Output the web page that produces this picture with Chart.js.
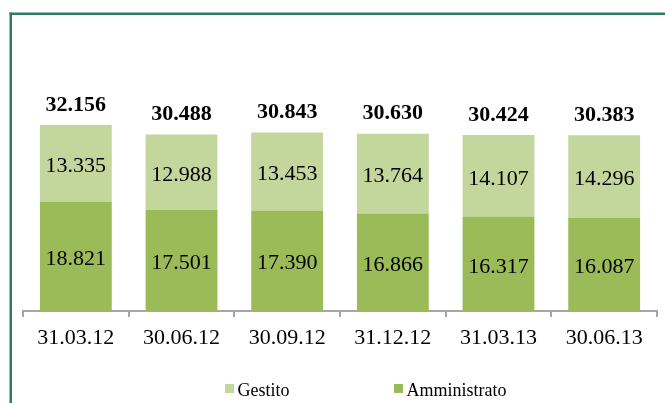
<!DOCTYPE html>
<html lang="it">
<head>
<meta charset="UTF-8">
<title>Gestito / Amministrato</title>
<script src="https://cdnjs.cloudflare.com/ajax/libs/Chart.js/4.4.1/chart.umd.min.js"></script>
<style>
    html, body { margin: 0; padding: 0; background: #fff; }
    #wrap { width: 665px; height: 403px; }
</style>
</head>
<body>
<div id="wrap"><canvas id="chart" width="665" height="403"></canvas></div>
<script>
// Data
const dates = ["31.03.12", "30.06.12", "30.09.12", "31.12.12", "31.03.13", "30.06.13"];
const amministrato = [18821, 17501, 17390, 16866, 16317, 16087];
const gestito = [13335, 12988, 13453, 13764, 14107, 14296];
const totals = [32156, 30488, 30843, 30630, 30424, 30383];

const SERIF = '"Liberation Serif", "Times New Roman", serif';

// 18821 -> "18.821"
function fmt(n) {
    return String(n).replace(/\B(?=(\d{3})+(?!\d))/g, ".");
}

const decorations = {
    id: "decorations",
    beforeDraw(chart) {
        const ctx = chart.ctx;
        ctx.save();
        // green frame on top and left
        ctx.fillStyle = "#2F7D69";
        ctx.fillRect(9.5, 12.5, 2.5, 403);
        ctx.fillRect(9.5, 12.5, 665, 2.5);
        ctx.restore();
    },
    afterDatasetsDraw(chart) {
        const ctx = chart.ctx;
        const xs = chart.scales.x;
        const ys = chart.scales.y;
        ctx.save();
        ctx.textAlign = "center";
        ctx.textBaseline = "middle";
        ctx.fillStyle = "#000";

        // values inside the segments
        ctx.font = "22px " + SERIF;
        chart.data.datasets.forEach((ds, i) => {
            chart.getDatasetMeta(i).data.forEach((bar, j) => {
                ctx.fillText(fmt(ds.data[j]), bar.x, (bar.y + bar.base) / 2 + 3);
            });
        });

        // totals above the bars
        ctx.font = "bold 22px " + SERIF;
        totals.forEach((t, j) => {
            const top = ys.getPixelForValue(amministrato[j] + gestito[j]);
            ctx.fillText(fmt(t), xs.getPixelForValue(j), top - 20);
        });

        // legend (Gestito first, then Amministrato)
        const items = [
            { ds: chart.data.datasets[1], x: 225 },
            { ds: chart.data.datasets[0], x: 394 }
        ];
        ctx.textAlign = "left";
        ctx.textBaseline = "alphabetic";
        ctx.font = "18px " + SERIF;
        items.forEach(it => {
            ctx.fillStyle = it.ds.backgroundColor;
            ctx.fillRect(it.x, 384, 9, 9);
            ctx.fillStyle = "#000";
            ctx.fillText(it.ds.label, it.x + 12.5, 396);
        });
        ctx.restore();
    }
};

new Chart(document.getElementById("chart"), {
    type: "bar",
    data: {
        labels: dates,
        datasets: [
            {
                label: "Amministrato",
                data: amministrato,
                backgroundColor: "#9BBB59",
                borderWidth: 0,
                barPercentage: 0.68,
                categoryPercentage: 1
            },
            {
                label: "Gestito",
                data: gestito,
                backgroundColor: "#C3D69B",
                borderWidth: 0,
                barPercentage: 0.68,
                categoryPercentage: 1
            }
        ]
    },
    options: {
        responsive: false,
        animation: false,
        layout: { padding: { left: 23, right: 8, top: 79.6, bottom: 0 } },
        plugins: {
            legend: { display: false },
            tooltip: { enabled: false }
        },
        scales: {
            x: {
                stacked: true,
                afterFit: scale => { scale.height = 92; },
                grid: {
                    offset: true,
                    drawOnChartArea: false,
                    drawTicks: true,
                    tickLength: 6,
                    color: "#A6A6A6",
                    lineWidth: 2
                },
                border: { color: "#A6A6A6", width: 2 },
                ticks: {
                    color: "#000",
                    padding: 8,
                    font: { family: SERIF, size: 22 }
                }
            },
            y: {
                stacked: true,
                display: false,
                min: 0,
                max: 40000
            }
        }
    },
    plugins: [decorations]
});
</script>
</body>
</html>
